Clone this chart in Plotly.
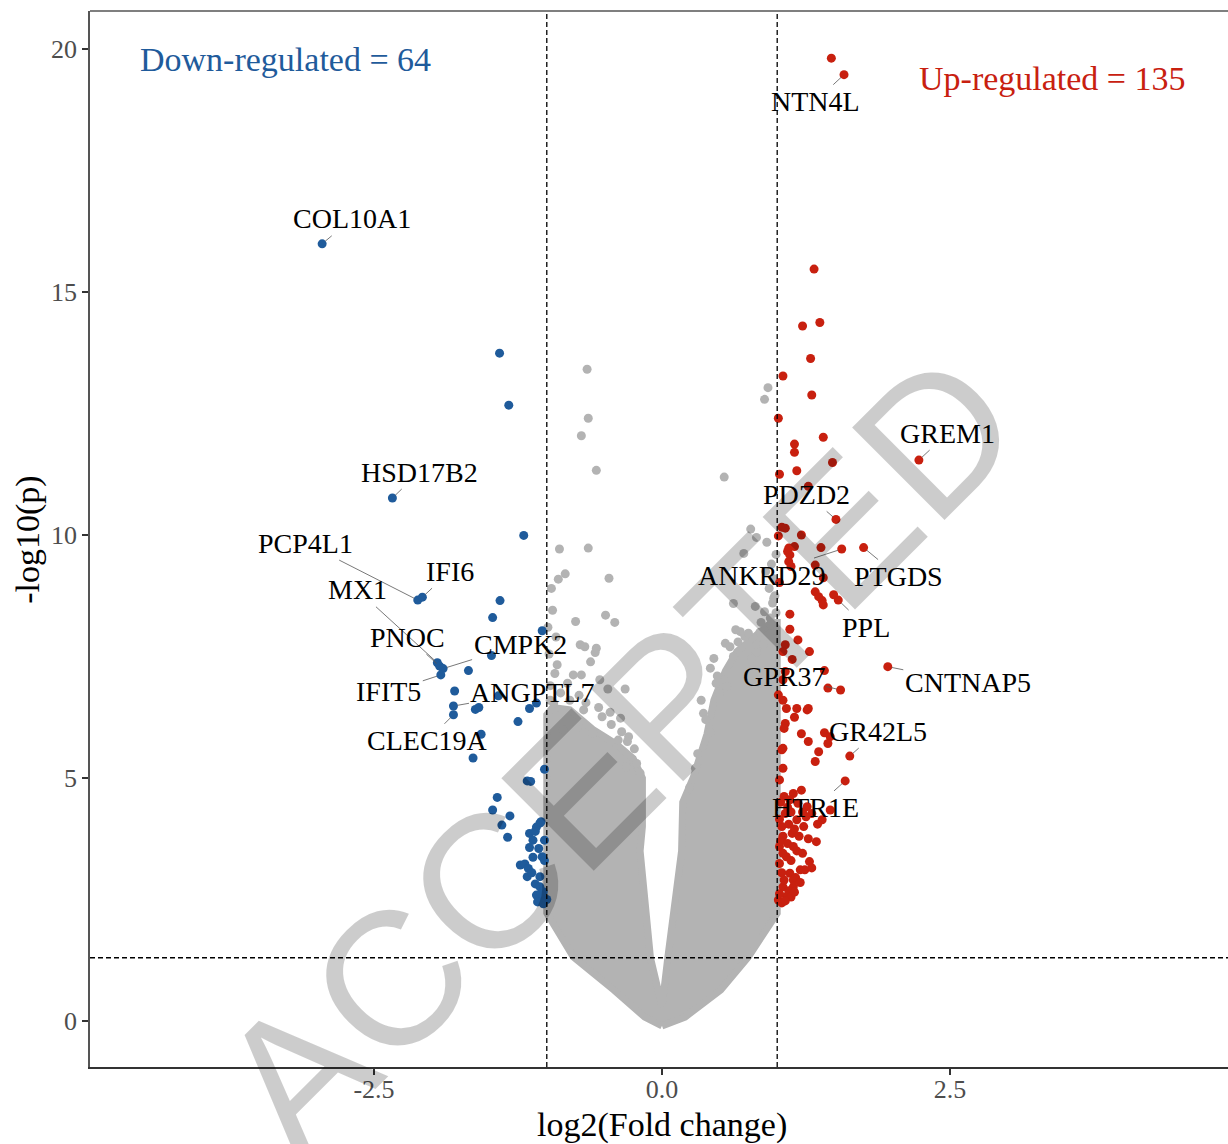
import plotly.graph_objects as go

# ---------------- data ----------------
down_x = [-2.95, -2.34, -2.12, -2.08, -1.95, -1.93, -1.90, -1.92, -1.81, -1.81,
          -1.41, -1.33, -1.20,
          -1.406, -1.47, -1.04, -1.48, -1.68, -1.80, -1.42, -1.62, -1.59, -1.15, -1.09, -1.25, -1.57,
          -1.64, -1.02, -1.17, -1.14, -1.43, -1.47, -1.32, -1.39, -1.34,
          -1.06, -1.09, -1.15, -1.12, -1.15, -1.07, -1.04, -1.12, -1.23, -1.19, -1.16, -1.17, -1.10,
          -1.06, -1.03, -1.09, -1.04, -1.03, -1.02, -1.06,
          -1.05, -1.10, -1.02, -1.13, -1.05, -1.00, -1.08]
down_y = [15.99, 10.76, 8.66, 8.72, 7.37, 7.30, 7.25, 7.12, 6.48, 6.30,
          13.74, 12.67, 9.99,
          8.65, 8.30, 8.03, 7.52, 7.21, 6.79, 6.69, 6.41, 6.45, 6.43, 6.54, 6.16, 5.90,
          5.41, 5.18, 4.94, 4.93, 4.60, 4.34, 4.22, 4.03, 3.78,
          4.07, 3.99, 3.86, 3.72, 3.57, 3.55, 3.38, 3.37, 3.21, 3.23, 3.14, 2.97, 2.82,
          2.76, 2.66, 2.59, 2.49, 2.41, 3.72, 2.97,
          4.10, 3.90, 3.30, 3.05, 2.62, 2.50, 2.45]

up_x = [1.58, 1.47, 2.23, 1.51, 1.56, 1.75, 1.53, 1.96, 1.55, 1.63, 1.59,
        1.32, 1.22, 1.37, 1.29, 1.05, 1.30, 1.01, 1.40, 1.15, 1.15, 1.48, 1.17, 1.02, 1.27,
        1.04, 1.07, 1.01, 1.21, 1.15, 1.10, 1.11, 1.09, 1.38, 1.10, 1.12, 1.33, 1.40,
        1.02, 1.33, 1.36, 1.39, 1.40, 1.49, 1.11, 1.11, 1.18, 1.28, 1.07, 1.05, 1.13,
        1.41, 1.07, 1.05, 1.44, 1.01, 1.05, 1.08, 1.17, 1.15, 1.26, 1.27, 1.07, 1.06,
        1.21, 1.27, 1.41, 1.46, 1.44, 1.36, 1.33, 1.05, 1.04, 1.05, 1.02,
        1.14, 1.21, 1.11, 1.26, 1.30, 1.39, 1.46, 1.07, 1.17, 1.04, 1.23, 1.13, 1.34,
        1.02, 1.14, 1.08, 1.20, 1.02, 1.11, 1.05, 1.14, 1.01, 1.08, 1.14, 1.24,
        1.03, 1.06, 1.09, 1.12, 1.18, 1.22, 1.25, 1.02, 1.10, 1.15, 1.05, 1.19, 1.27,
        1.03, 1.09, 1.17, 1.22, 1.05, 1.12, 1.28, 1.04, 1.16, 1.20, 1.06, 1.10, 1.02,
        1.12, 1.04, 1.07, 1.15, 1.30, 1.35]
up_y = [19.47, 19.81, 11.54, 10.32, 9.71, 9.74, 8.66, 7.29, 6.81, 5.45, 4.94,
        15.47, 14.30, 14.37, 13.63, 13.27, 12.88, 12.40, 12.01, 11.87, 11.70, 11.49, 11.32, 11.25, 11.00,
        10.16, 10.14, 9.98, 10.00, 9.76, 9.73, 9.59, 9.66, 9.74, 9.45, 9.35, 9.38, 9.12,
        9.02, 8.83, 8.73, 8.65, 8.56, 8.77, 8.37, 8.06, 7.84, 7.60, 7.74, 7.60, 7.44,
        7.21, 7.19, 7.02, 6.85, 6.71, 6.60, 6.43, 6.43, 6.25, 6.40, 6.43, 6.12, 6.02,
        5.91, 5.75, 5.93, 5.85, 5.71, 5.54, 5.34, 5.61, 5.58, 5.20, 4.96,
        4.68, 4.75, 4.55, 4.41, 4.27, 4.14, 4.34, 4.27, 4.14, 4.00, 4.00, 3.86, 3.69,
        3.59, 3.59, 3.38, 3.11, 3.24, 3.04, 2.76, 2.76, 2.49, 2.56, 2.90, 3.11,
        4.50, 4.62, 4.40, 4.30, 4.48, 4.30, 4.20, 4.15, 4.05, 3.95, 3.80, 3.80, 3.75,
        3.70, 3.65, 3.50, 3.45, 3.45, 3.30, 3.28, 3.05, 2.95, 2.85, 2.90, 2.68, 2.62,
        2.55, 2.43, 2.47, 2.65, 3.15, 4.05]

# sparse non-significant genes
ns_x = [-0.65, -0.64, -0.70, -0.57, -0.89, -0.64, -0.84, -0.90, -0.96, -0.46, -0.75, -0.49, -0.41,
        -0.71, -0.57, -0.67, -0.58, -0.91, -0.62, -0.77, -0.70, -0.54, -0.47, -0.32, -0.94, -0.80,
        -0.68, -0.52, -0.36, -0.86, -0.74, -0.60, -0.38, -0.29, -0.31, -0.19,
        -0.97, -0.93, -0.98, -0.88, -0.82, -0.99, -0.95, -0.72, -0.66, -0.55, -0.44, -0.35,
        -0.24, -0.22, -0.30, -0.45, -0.97, -0.92,
        0.54, 0.92, 0.89, 0.77, 0.82, 0.71, 0.62, 0.81, 0.89, 0.94, 0.68, 0.72, 0.55, 0.59,
        0.45, 0.42, 0.85, 0.88, 0.82, 0.62, 0.78, 0.53, 0.56, 0.50, 0.34, 0.36, 0.42,
        0.95, 0.97, 0.93, 0.98, 0.90, 0.96,
        0.99, 0.97, 0.94, 0.86, 0.75, 0.66, 0.48, 0.38, 0.31, 0.29, 0.24, 0.47, 0.64, 0.99, 0.91]
ns_y = [13.41, 12.40, 12.04, 11.33, 9.71, 9.73, 9.20, 9.09, 8.90, 9.11, 8.22, 8.35, 8.20,
        7.74, 7.67, 7.70, 7.58, 7.33, 7.39, 7.12, 7.12, 7.02, 6.83, 6.83, 6.54, 6.60,
        6.40, 6.26, 6.23, 5.99, 6.02, 5.92, 5.78, 5.85, 5.23, 5.10,
        6.90, 7.15, 7.55, 6.75, 6.95, 8.10, 8.45, 6.70, 6.55, 6.45, 6.10, 5.95,
        5.60, 5.30, 5.75, 6.35, 6.60, 7.90,
        11.19, 13.03, 12.79, 10.12, 9.95, 9.62, 8.59, 8.53, 8.42, 8.29, 8.01, 7.91, 7.77, 7.70,
        7.46, 7.26, 8.00, 7.75, 7.58, 7.50, 7.45, 7.02, 6.88, 6.74, 6.60, 6.33, 5.95,
        9.40, 9.10, 8.90, 8.75, 9.25, 8.60,
        8.40, 8.70, 8.15, 8.20, 7.98, 7.80, 7.10, 6.20, 5.50, 5.20, 4.80, 6.95, 8.05, 9.60, 9.85]

# outline of the dense non-significant cloud
cloud_x = [0.00, -0.15, -0.42, -0.77, -1.00, -1.00, -0.95, -0.80, -0.60, -0.40, -0.25,
           -0.17, -0.17, -0.19, -0.10, 0.00, 0.05, 0.17, 0.18, 0.27, 0.39, 0.45, 0.55,
           0.65, 0.80, 0.95, 1.00, 1.00, 0.75, 0.51, 0.20, 0.00]
cloud_y = [-0.10, 0.08, 0.64, 1.32, 2.22, 6.30, 6.45, 6.40, 6.00, 5.70, 5.40,
           5.00, 4.00, 3.50, 1.30, 0.30, 1.30, 3.50, 4.50, 5.00, 5.90, 6.60, 7.20,
           7.60, 7.90, 8.20, 8.20, 2.22, 1.32, 0.64, 0.08, -0.10]

labels = ["COL10A1", "HSD17B2", "PCP4L1", "IFI6", "MX1", "PNOC", "CMPK2", "IFIT5",
          "ANGPTL7", "CLEC19A", "NTN4L", "GREM1", "PDZD2", "ANKRD29", "PTGDS", "PPL",
          "CNTNAP5", "GPR37", "GR42L5", "HTR1E"]
label_x = [-2.95, -2.34, -2.12, -2.08, -1.95, -1.93, -1.90, -1.92, -1.81, -1.81,
           1.58, 2.23, 1.51, 1.56, 1.75, 1.53, 1.96, 1.55, 1.63, 1.59]
label_y = [15.99, 10.76, 8.66, 8.72, 7.37, 7.30, 7.25, 7.12, 6.48, 6.30,
           19.47, 11.54, 10.32, 9.71, 9.74, 8.66, 7.29, 6.81, 5.45, 4.94]
label_dx = [30, 27, -112, 28, -80, -32, 77, -52, 79, -26, -29, 29, -29, -80, 35, 28, 80, -57, 28, -30]
label_dy = [-25, -26, -57, -26, -73, -29, -24, 17, -14, 26, 27, -27, -25, 26, 29, 27, 16, -14, -25, 27]

n_down = 64
n_up = 135
fc_cut = 1.0
p_cut = 1.301

BLUE = "#1f5b9b"
RED = "#c8200f"
GREY = "#b3b3b3"
SERIF = "Liberation Serif"

fig = go.Figure()
fig.add_trace(go.Scatter(x=cloud_x, y=cloud_y, mode="lines", fill="toself",
                         fillcolor=GREY, line=dict(color=GREY, width=7), hoverinfo="skip"))
fig.add_trace(go.Scatter(x=ns_x, y=ns_y, mode="markers",
                         marker=dict(size=9, color=GREY, line=dict(width=0))))
fig.add_trace(go.Scatter(x=down_x, y=down_y, mode="markers",
                         marker=dict(size=9, color=BLUE, line=dict(width=0))))
fig.add_trace(go.Scatter(x=up_x, y=up_y, mode="markers",
                         marker=dict(size=9, color=RED, line=dict(width=0))))

dash = dict(color="black", width=1.3, dash="5px,3px")
fig.add_shape(type="line", xref="x", yref="paper", x0=-fc_cut, x1=-fc_cut, y0=0, y1=1, line=dash)
fig.add_shape(type="line", xref="x", yref="paper", x0=fc_cut, x1=fc_cut, y0=0, y1=1, line=dash)
fig.add_shape(type="line", xref="paper", yref="y", x0=0, x1=1, y0=p_cut, y1=p_cut, line=dash)
fig.add_shape(type="line", xref="paper", yref="paper", x0=0, x1=1, y0=1, y1=1,
              line=dict(color="#555555", width=1.5))

for t, x, y, dx, dy in zip(labels, label_x, label_y, label_dx, label_dy):
    fig.add_annotation(x=x, y=y, text=t, showarrow=True, ax=dx, ay=dy,
                       arrowhead=0, arrowwidth=0.8, arrowcolor="#555555", standoff=4,
                       font=dict(family=SERIF, size=28, color="black"))

fig.add_annotation(x=-3.27, y=19.79, text=f"Down-regulated = {n_down}", showarrow=False,
                   font=dict(family=SERIF, size=34, color=BLUE))
fig.add_annotation(x=3.39, y=19.4, text=f"Up-regulated = {n_up}", showarrow=False,
                   font=dict(family=SERIF, size=34, color=RED))

fig.add_annotation(xref="x", yref="paper", x=0, y=0, yshift=-58, yanchor="middle",
                   text="log2(Fold change)", showarrow=False,
                   font=dict(family=SERIF, size=34, color="black"))
fig.add_annotation(xref="paper", yref="y", x=0, xshift=-62, xanchor="center", y=9.9,
                   text="-log10(p)", textangle=-90, showarrow=False,
                   font=dict(family=SERIF, size=34, color="black"))

fig.add_annotation(x=-0.38, y=5.51, text="ACCEPTED", textangle=-45, showarrow=False,
                   font=dict(family="Liberation Sans", size=190, color="rgba(0,0,0,0.2)"))

fig.update_layout(
    width=1228, height=1144, margin=dict(l=90, r=0, t=11, b=77),
    plot_bgcolor="white", paper_bgcolor="white", showlegend=False,
    xaxis=dict(range=[-4.965, 4.913], tickvals=[-2.5, 0, 2.5], ticktext=["-2.5", "0.0", "2.5"],
               showgrid=False, zeroline=False, showline=True, linecolor="#333333", linewidth=2,
               ticks="outside", ticklen=6, tickwidth=2, tickcolor="#333333", ticklabelstandoff=-8,
               tickfont=dict(family=SERIF, size=26, color="#4d4d4d")),
    yaxis=dict(range=[-0.9465, 20.78], tickvals=[0, 5, 10, 15, 20],
               showgrid=False, zeroline=False, showline=True, linecolor="#555555", linewidth=1.5,
               ticks="outside", ticklen=6, tickwidth=2, tickcolor="#333333",
               tickfont=dict(family=SERIF, size=26, color="#4d4d4d")),
)

fig.write_html("out.html")
